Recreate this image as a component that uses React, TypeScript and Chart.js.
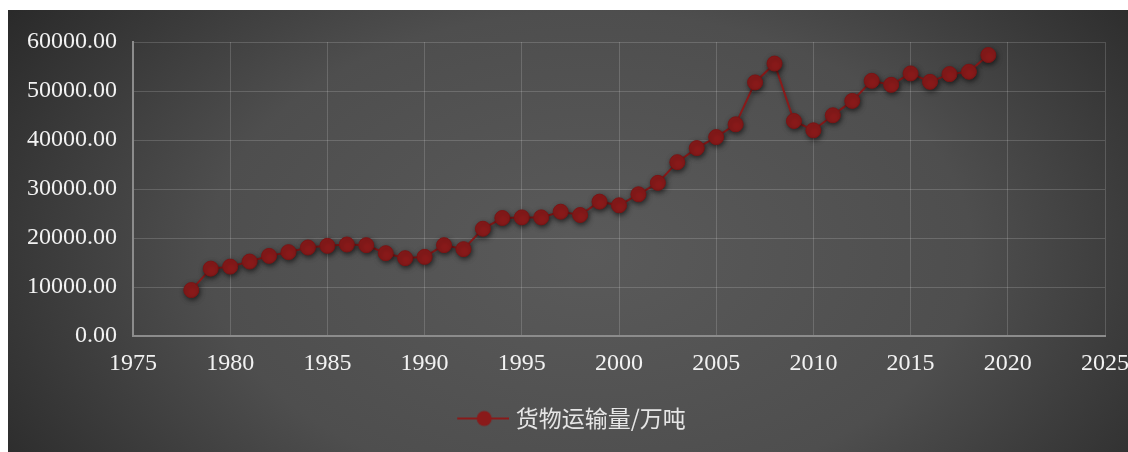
import React, { useEffect, useRef } from "react";
import { Chart, registerables } from "chart.js";

Chart.register(...registerables);

const years: number[] = [
  1978, 1979, 1980, 1981, 1982, 1983, 1984, 1985, 1986, 1987, 1988, 1989, 1990, 1991,
  1992, 1993, 1994, 1995, 1996, 1997, 1998, 1999, 2000, 2001, 2002, 2003, 2004, 2005,
  2006, 2007, 2008, 2009, 2010, 2011, 2012, 2013, 2014, 2015, 2016, 2017, 2018, 2019,
];
const freight: number[] = [
  9400, 13780, 14190, 15220, 16380, 17140, 18090, 18430, 18700, 18570, 16930, 15910, 16180, 18570,
  17750, 21910, 24100, 24230, 24230, 25390, 24710, 27440, 26690, 28940, 31270, 35490, 38360, 40610,
  43210, 51750, 55600, 43890, 41980, 45050, 47990, 52080, 51260, 53590, 51870, 53450, 53930, 57340,
];
const seriesLabel = "货物运输量/万吨";
const xMin = 1975;
const xMax = 2025;
const xStep = 5;
const yMin = 0;
const yMax = 60000;
const yStep = 10000;

const POINT_COLOR = "#8a1a1a";

function makeLegendIcon(): HTMLCanvasElement {
  const c = document.createElement("canvas");
  c.width = 70;
  c.height = 20;
  const g = c.getContext("2d")!;
  g.strokeStyle = POINT_COLOR;
  g.lineWidth = 2;
  g.beginPath();
  g.moveTo(18, 10);
  g.lineTo(70, 10);
  g.stroke();
  g.fillStyle = POINT_COLOR;
  g.beginPath();
  g.arc(45, 10, 7.5, 0, Math.PI * 2);
  g.fill();
  return c;
}

const bgPlugin = {
  id: "bgGradient",
  beforeDraw(chart: any) {
    const { ctx, width, height } = chart;
    ctx.save();
    const cx = width * 0.52;
    const cy = height * 0.55;
    ctx.translate(cx, cy);
    ctx.scale(1, (height / width) * 1.6);
    const r = width * 0.62;
    const grad = ctx.createRadialGradient(0, 0, 0, 0, 0, r);
    grad.addColorStop(0, "#5a5a5a");
    grad.addColorStop(0.55, "#4e4e4e");
    grad.addColorStop(1, "#2a2a2a");
    ctx.fillStyle = grad;
    ctx.fillRect(-cx, -cy * 10, width * 2, height * 20);
    ctx.restore();
  },
  beforeDatasetDraw(chart: any) {
    const ctx = chart.ctx;
    ctx.save();
    ctx.shadowColor = "rgba(0,0,0,0.55)";
    ctx.shadowBlur = 5;
    ctx.shadowOffsetX = 1;
    ctx.shadowOffsetY = 2;
  },
  afterDatasetDraw(chart: any) {
    chart.ctx.restore();
  },
};

export default function App() {
  const ref = useRef<HTMLCanvasElement | null>(null);

  useEffect(() => {
    if (!ref.current) return;
    const icon = makeLegendIcon();
    const chart = new Chart(ref.current, {
      type: "line",
      data: {
        datasets: [
          {
            label: seriesLabel,
            data: years.map((y, i) => ({ x: y, y: freight[i] })),
            borderColor: POINT_COLOR,
            borderWidth: 2,
            backgroundColor: POINT_COLOR,
            pointBackgroundColor: POINT_COLOR,
            pointBorderColor: "#7a1515",
            pointBorderWidth: 1,
            pointRadius: 7.5,
            pointHoverRadius: 7.5,
            tension: 0,
          },
        ],
      },
      options: {
        animation: false,
        responsive: false,
        maintainAspectRatio: false,
        layout: { padding: { left: 3, right: 9, top: 32, bottom: 12 } },
        plugins: {
          tooltip: { enabled: false },
          legend: {
            display: true,
            position: "bottom",
            labels: {
              color: "#e6e6e6",
              font: { family: "'Noto Sans CJK SC', sans-serif", size: 23 },
              usePointStyle: true,
              pointStyleWidth: 60,
              padding: 16,
              generateLabels: (ch: any) =>
                ch.data.datasets.map((ds: any, i: number) => ({
                  text: ds.label,
                  fillStyle: POINT_COLOR,
                  strokeStyle: POINT_COLOR,
                  lineWidth: 0,
                  pointStyle: icon,
                  hidden: false,
                  datasetIndex: i,
                  fontColor: "#e6e6e6",
                })),
            },
          },
        },
        scales: {
          x: {
            type: "linear",
            min: xMin,
            max: xMax,
            afterFit: (scale: any) => {
              scale.paddingRight = 23;
            },
            ticks: {
              stepSize: xStep,
              color: "#f2f2f2",
              font: { family: "'Liberation Serif', 'Times New Roman', serif", size: 24 },
              padding: 13,
              maxRotation: 0,
              callback: (v: any) => String(v),
            },
            grid: { color: "rgba(255,255,255,0.16)", lineWidth: 1, drawTicks: false },
            border: { color: "#8c8c8c", width: 2 },
          },
          y: {
            min: yMin,
            max: yMax,
            ticks: {
              stepSize: yStep,
              color: "#f2f2f2",
              font: { family: "'Liberation Serif', 'Times New Roman', serif", size: 24 },
              padding: 16,
              callback: (v: any) => Number(v).toFixed(2),
            },
            grid: { color: "rgba(255,255,255,0.16)", lineWidth: 1, drawTicks: false },
            border: { color: "#8c8c8c", width: 2 },
          },
        },
      },
      plugins: [bgPlugin],
    });
    return () => chart.destroy();
  }, []);

  return (
    <div style={{ position: "absolute", left: 8, top: 10, width: 1120, height: 442 }}>
      <canvas ref={ref} width={1120} height={442} style={{ display: "block" }} />
    </div>
  );
}
